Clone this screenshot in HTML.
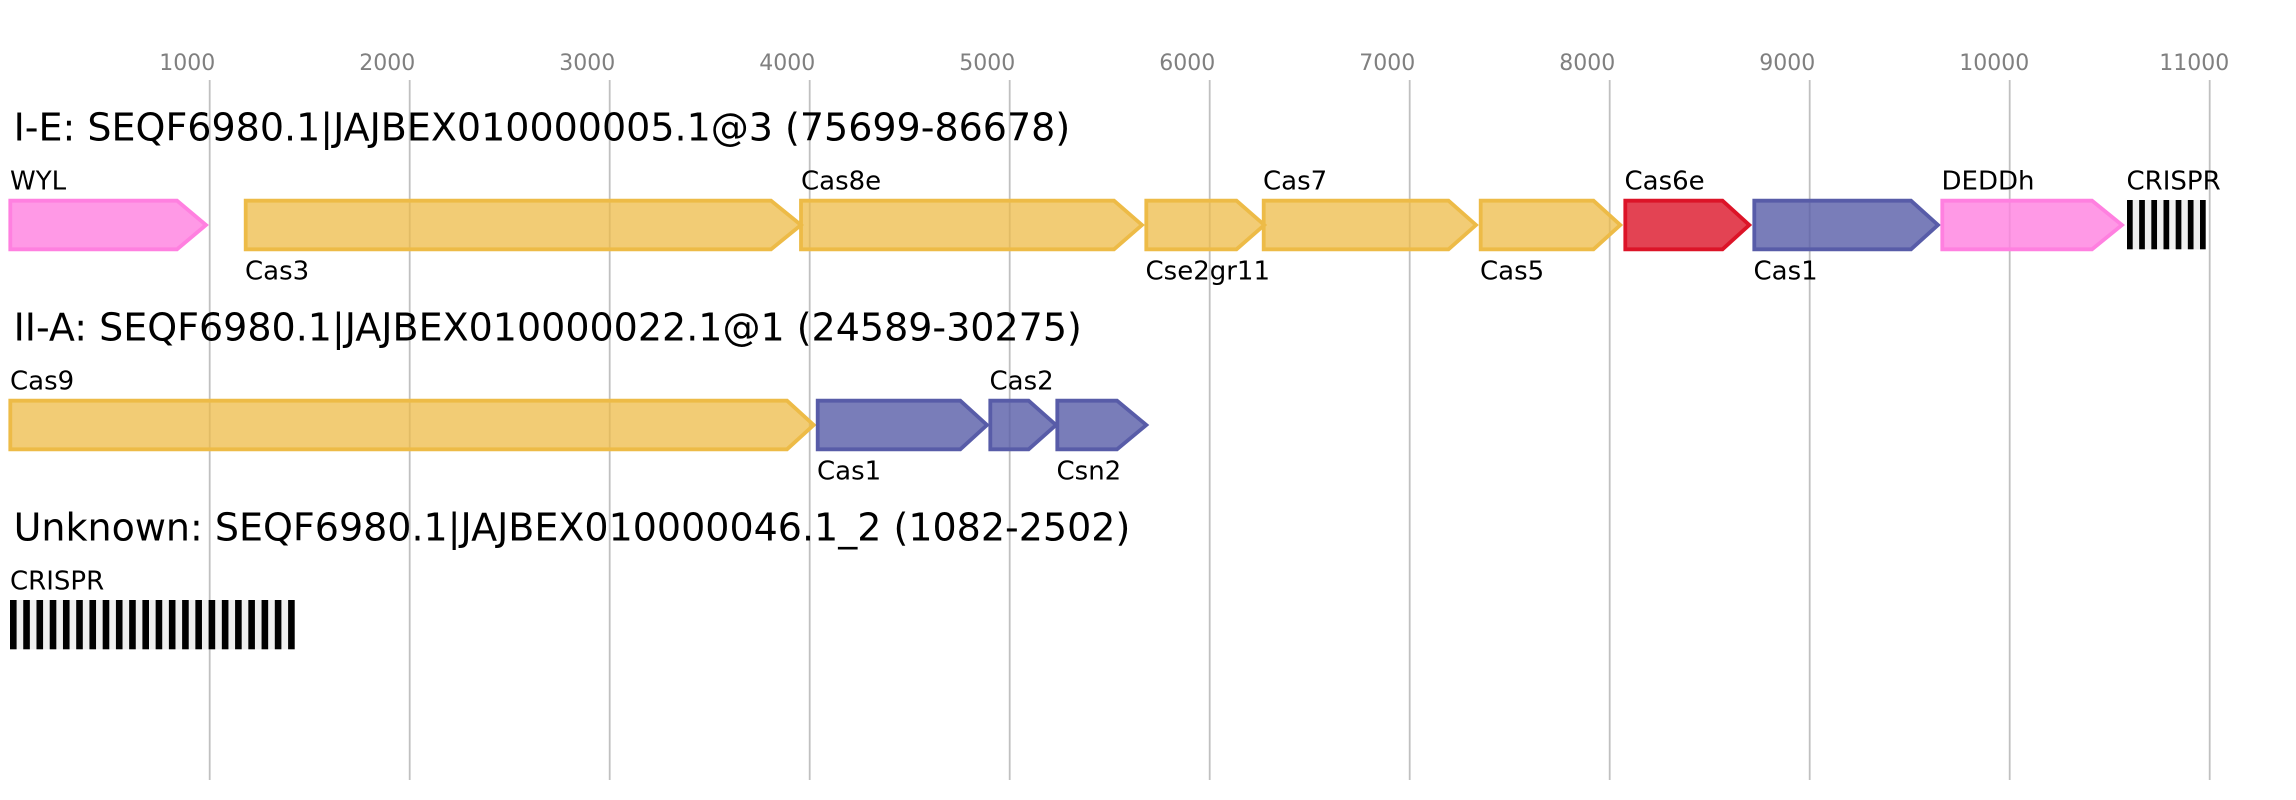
<!DOCTYPE html>
<html>
<head>
<meta charset="utf-8">
<style>
  html, body { margin:0; padding:0; background:#ffffff; }
  svg { display:block; }
  text { font-family: "DejaVu Sans", "Liberation Sans", sans-serif; }
</style>
</head>
<body>
<svg width="2296" height="800" viewBox="0 0 2296 800" xmlns="http://www.w3.org/2000/svg">
  <rect x="0" y="0" width="2296" height="800" fill="#ffffff"/>

  <!-- grid lines -->
  <g stroke="#c0c0c0" stroke-width="1.8">
    <line x1="209.7" y1="80" x2="209.7" y2="780"/>
    <line x1="409.7" y1="80" x2="409.7" y2="780"/>
    <line x1="609.7" y1="80" x2="609.7" y2="780"/>
    <line x1="809.7" y1="80" x2="809.7" y2="780"/>
    <line x1="1009.7" y1="80" x2="1009.7" y2="780"/>
    <line x1="1209.7" y1="80" x2="1209.7" y2="780"/>
    <line x1="1409.7" y1="80" x2="1409.7" y2="780"/>
    <line x1="1609.7" y1="80" x2="1609.7" y2="780"/>
    <line x1="1809.7" y1="80" x2="1809.7" y2="780"/>
    <line x1="2009.7" y1="80" x2="2009.7" y2="780"/>
    <line x1="2209.7" y1="80" x2="2209.7" y2="780"/>
  </g>

  <!-- tick labels -->
  <g fill="#808080" font-size="22">
    <text x="159.3" y="70">1000</text>
    <text x="359.3" y="70">2000</text>
    <text x="559.3" y="70">3000</text>
    <text x="759.3" y="70">4000</text>
    <text x="959.3" y="70">5000</text>
    <text x="1159.3" y="70">6000</text>
    <text x="1359.3" y="70">7000</text>
    <text x="1559.3" y="70">8000</text>
    <text x="1759.3" y="70">9000</text>
    <text x="1959.3" y="70">10000</text>
    <text x="2159.3" y="70">11000</text>
  </g>

  <!-- titles -->
  <g fill="#000000" font-size="38">
    <text x="13.6" y="140.5">I-E: SEQF6980.1|JAJBEX010000005.1@3 (75699-86678)</text>
    <text x="13.6" y="340.5">II-A: SEQF6980.1|JAJBEX010000022.1@1 (24589-30275)</text>
    <text x="13.6" y="540.5">Unknown: SEQF6980.1|JAJBEX010000046.1_2 (1082-2502)</text>
  </g>

  <!-- Row 1 genes -->
  <g stroke-width="3.8" stroke-linejoin="miter">
    <!-- WYL pink -->
    <path d="M10.3,200.7 L177,200.7 L206,225 L177,249.3 L10.3,249.3 Z" fill="#ff80e0" fill-opacity="0.8" stroke="#ff80e0"/>
    <!-- Cas3 -->
    <path d="M245.7,200.7 L771,200.7 L801,225 L771,249.3 L245.7,249.3 Z" fill="#edbb47" fill-opacity="0.75" stroke="#edbb47"/>
    <!-- Cas8e -->
    <path d="M801,200.7 L1114,200.7 L1142,225 L1114,249.3 L801,249.3 Z" fill="#edbb47" fill-opacity="0.75" stroke="#edbb47"/>
    <!-- Cse2gr11 -->
    <path d="M1146.3,200.7 L1236.5,200.7 L1264.3,225 L1236.5,249.3 L1146.3,249.3 Z" fill="#edbb47" fill-opacity="0.75" stroke="#edbb47"/>
    <!-- Cas7 -->
    <path d="M1263.7,200.7 L1448.5,200.7 L1476,225 L1448.5,249.3 L1263.7,249.3 Z" fill="#edbb47" fill-opacity="0.75" stroke="#edbb47"/>
    <!-- Cas5 -->
    <path d="M1480.7,200.7 L1593.5,200.7 L1620.3,225 L1593.5,249.3 L1480.7,249.3 Z" fill="#edbb47" fill-opacity="0.75" stroke="#edbb47"/>
    <!-- Cas6e red -->
    <path d="M1625.3,200.7 L1722.5,200.7 L1749.3,225 L1722.5,249.3 L1625.3,249.3 Z" fill="#dc1428" fill-opacity="0.8" stroke="#dc1428"/>
    <!-- Cas1 blue -->
    <path d="M1754.3,200.7 L1911,200.7 L1938,225 L1911,249.3 L1754.3,249.3 Z" fill="#585ca8" fill-opacity="0.8" stroke="#585ca8"/>
    <!-- DEDDh pink -->
    <path d="M1942.3,200.7 L2092,200.7 L2122,225 L2092,249.3 L1942.3,249.3 Z" fill="#ff80e0" fill-opacity="0.8" stroke="#ff80e0"/>
  </g>

  <!-- Row 1 CRISPR -->
  <g>
    <rect x="2127" y="200" width="78.7" height="49.3" fill="#efefef"/>
    <g fill="#000000">
      <rect x="2127" y="200" width="5.7" height="49.3"/>
      <rect x="2139.17" y="200" width="5.7" height="49.3"/>
      <rect x="2151.33" y="200" width="5.7" height="49.3"/>
      <rect x="2163.5" y="200" width="5.7" height="49.3"/>
      <rect x="2175.67" y="200" width="5.7" height="49.3"/>
      <rect x="2187.83" y="200" width="5.7" height="49.3"/>
      <rect x="2200" y="200" width="5.7" height="49.3"/>
    </g>
  </g>

  <!-- Row 1 labels -->
  <g fill="#000000" font-size="26">
    <text x="10" y="189.5">WYL</text>
    <text x="245" y="279.5">Cas3</text>
    <text x="801" y="189.5">Cas8e</text>
    <text x="1145.5" y="279.5">Cse2gr11</text>
    <text x="1263" y="189.5">Cas7</text>
    <text x="1480" y="279.5">Cas5</text>
    <text x="1624.5" y="189.5">Cas6e</text>
    <text x="1753.5" y="279.5">Cas1</text>
    <text x="1941.5" y="189.5">DEDDh</text>
    <text x="2126.5" y="189.5">CRISPR</text>
  </g>

  <!-- Row 2 genes -->
  <g stroke-width="3.8" stroke-linejoin="miter">
    <path d="M10.3,400.7 L787,400.7 L813.7,425 L787,449.3 L10.3,449.3 Z" fill="#edbb47" fill-opacity="0.75" stroke="#edbb47"/>
    <path d="M817.7,400.7 L960.3,400.7 L987,425 L960.3,449.3 L817.7,449.3 Z" fill="#585ca8" fill-opacity="0.8" stroke="#585ca8"/>
    <path d="M990.3,400.7 L1028.6,400.7 L1056,425 L1028.6,449.3 L990.3,449.3 Z" fill="#585ca8" fill-opacity="0.8" stroke="#585ca8"/>
    <path d="M1057.3,400.7 L1117,400.7 L1146.3,425 L1117,449.3 L1057.3,449.3 Z" fill="#585ca8" fill-opacity="0.8" stroke="#585ca8"/>
  </g>

  <!-- Row 2 labels -->
  <g fill="#000000" font-size="26">
    <text x="10" y="389.5">Cas9</text>
    <text x="817" y="479.5">Cas1</text>
    <text x="989.5" y="389.5">Cas2</text>
    <text x="1056.5" y="479.5">Csn2</text>
  </g>

  <!-- Row 3 CRISPR -->
  <g>
    <rect x="10" y="600" width="284.7" height="49.3" fill="#efefef"/>
    <g fill="#000000">
      <rect x="10" y="600" width="6.6" height="49.3"/>
      <rect x="23.24" y="600" width="6.6" height="49.3"/>
      <rect x="36.48" y="600" width="6.6" height="49.3"/>
      <rect x="49.72" y="600" width="6.6" height="49.3"/>
      <rect x="62.96" y="600" width="6.6" height="49.3"/>
      <rect x="76.2" y="600" width="6.6" height="49.3"/>
      <rect x="89.44" y="600" width="6.6" height="49.3"/>
      <rect x="102.68" y="600" width="6.6" height="49.3"/>
      <rect x="115.92" y="600" width="6.6" height="49.3"/>
      <rect x="129.16" y="600" width="6.6" height="49.3"/>
      <rect x="142.4" y="600" width="6.6" height="49.3"/>
      <rect x="155.64" y="600" width="6.6" height="49.3"/>
      <rect x="168.88" y="600" width="6.6" height="49.3"/>
      <rect x="182.12" y="600" width="6.6" height="49.3"/>
      <rect x="195.36" y="600" width="6.6" height="49.3"/>
      <rect x="208.6" y="600" width="6.6" height="49.3"/>
      <rect x="221.84" y="600" width="6.6" height="49.3"/>
      <rect x="235.08" y="600" width="6.6" height="49.3"/>
      <rect x="248.32" y="600" width="6.6" height="49.3"/>
      <rect x="261.56" y="600" width="6.6" height="49.3"/>
      <rect x="274.8" y="600" width="6.6" height="49.3"/>
      <rect x="288.1" y="600" width="6.6" height="49.3"/>
    </g>
  </g>

  <!-- Row 3 label -->
  <text x="10" y="589.5" fill="#000000" font-size="26">CRISPR</text>
</svg>
</body>
</html>
